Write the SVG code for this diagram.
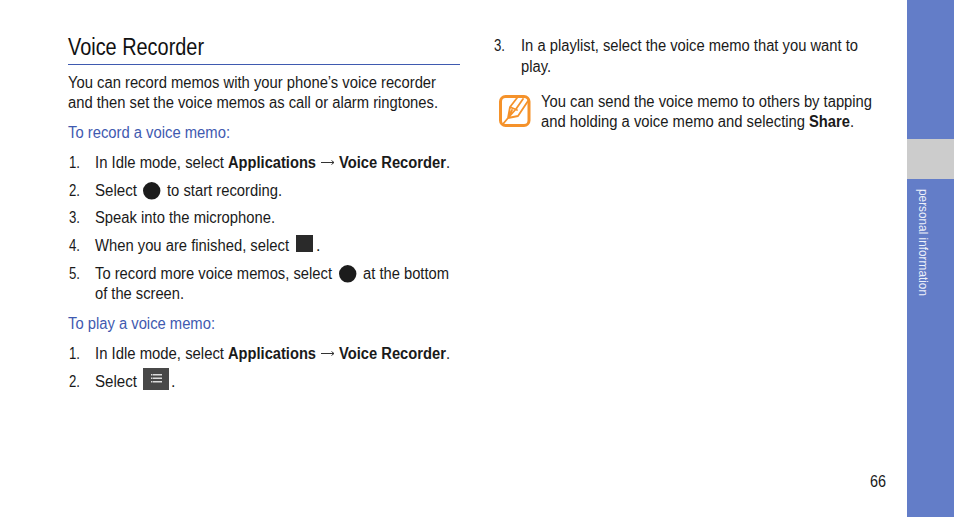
<svg xmlns="http://www.w3.org/2000/svg" width="954" height="517" viewBox="0 0 954 517">
<style>
text{font-family:"Liberation Sans",Arial,sans-serif;font-size:16px;fill:#1a1a1a}
.b{font-weight:700}
.n{font-weight:400}
.h{fill:#3f5ab0}
</style>
<defs>
<g id="rec"><circle r="8.700" fill="#1c1c1c"/></g>
</defs>
<rect width="954" height="517" fill="#fff"/>
<rect x="907" y="0" width="47" height="517" fill="#637dc8"/>
<rect x="907" y="139" width="47" height="40" fill="#cccccc"/>
<text transform="translate(918.500,189) rotate(90)" textLength="107" lengthAdjust="spacingAndGlyphs" style="font-size:12px;fill:#eef1fa">personal information</text>
<text x="68" y="55" textLength="136" lengthAdjust="spacingAndGlyphs" style="font-size:23px;fill:#111">Voice Recorder</text>
<rect x="68" y="64" width="392" height="1" fill="#3f5ab0"/>
<text x="68" y="88" textLength="368" lengthAdjust="spacingAndGlyphs">You can record memos with your phone’s voice recorder</text>
<text x="68" y="108" textLength="370" lengthAdjust="spacingAndGlyphs">and then set the voice memos as call or alarm ringtones.</text>
<text class="h" x="68" y="138" textLength="162" lengthAdjust="spacingAndGlyphs">To record a voice memo:</text>
<text x="69" y="168" textLength="11" lengthAdjust="spacingAndGlyphs">1.</text>
<text x="95" y="168" textLength="129" lengthAdjust="spacingAndGlyphs">In Idle mode, select</text>
<text class="b" x="228" y="168" textLength="88" lengthAdjust="spacingAndGlyphs">Applications</text>
<path d="M321 162.500H334M331.500 160.500l2.500 2-2.500 2" fill="none" stroke="#333"/>
<text class="b" x="339" y="168" textLength="111" lengthAdjust="spacingAndGlyphs">Voice Recorder<tspan class="n">.</tspan></text>
<text x="69" y="196" textLength="11" lengthAdjust="spacingAndGlyphs">2.</text>
<text x="95" y="196" textLength="42" lengthAdjust="spacingAndGlyphs">Select</text>
<use href="#rec" x="151.700" y="190.800"/>
<text x="167" y="196" textLength="115" lengthAdjust="spacingAndGlyphs">to start recording.</text>
<text x="69" y="223" textLength="11" lengthAdjust="spacingAndGlyphs">3.</text>
<text x="95" y="223" textLength="180" lengthAdjust="spacingAndGlyphs">Speak into the microphone.</text>
<text x="69" y="251" textLength="11" lengthAdjust="spacingAndGlyphs">4.</text>
<text x="95" y="251" textLength="194" lengthAdjust="spacingAndGlyphs">When you are finished, select</text>
<rect x="296" y="235" width="17" height="17" fill="#2a2a2a"/>
<text x="316" y="251">.</text>
<text x="69" y="279" textLength="11" lengthAdjust="spacingAndGlyphs">5.</text>
<text x="95" y="279" textLength="237" lengthAdjust="spacingAndGlyphs">To record more voice memos, select</text>
<use href="#rec" x="347.700" y="273.800"/>
<text x="363" y="279" textLength="86" lengthAdjust="spacingAndGlyphs">at the bottom</text>
<text x="95" y="299" textLength="89" lengthAdjust="spacingAndGlyphs">of the screen.</text>
<text class="h" x="68" y="329" textLength="147" lengthAdjust="spacingAndGlyphs">To play a voice memo:</text>
<text x="69" y="359" textLength="11" lengthAdjust="spacingAndGlyphs">1.</text>
<text x="95" y="359" textLength="129" lengthAdjust="spacingAndGlyphs">In Idle mode, select</text>
<text class="b" x="228" y="359" textLength="88" lengthAdjust="spacingAndGlyphs">Applications</text>
<path d="M321 353.500H334M331.500 351.500l2.500 2-2.500 2" fill="none" stroke="#333"/>
<text class="b" x="339" y="359" textLength="111" lengthAdjust="spacingAndGlyphs">Voice Recorder<tspan class="n">.</tspan></text>
<text x="69" y="387" textLength="11" lengthAdjust="spacingAndGlyphs">2.</text>
<text x="95" y="387" textLength="42" lengthAdjust="spacingAndGlyphs">Select</text>
<rect x="143" y="368" width="26" height="22" fill="#484848"/>
<g fill="#dcdcdc"><rect x="151" y="374" width="1.500" height="1.500"/><rect x="153" y="374" width="9" height="1.500"/><rect x="151" y="377.500" width="1.500" height="1.500"/><rect x="153" y="377.500" width="9" height="1.500"/><rect x="151" y="381" width="1.500" height="1.500"/><rect x="153" y="381" width="9" height="1.500"/></g>
<text x="171" y="387">.</text>
<text x="494" y="51" textLength="11" lengthAdjust="spacingAndGlyphs">3.</text>
<text x="521" y="51" textLength="337" lengthAdjust="spacingAndGlyphs">In a playlist, select the voice memo that you want to</text>
<text x="521" y="72" textLength="30" lengthAdjust="spacingAndGlyphs">play.</text>
<g fill="none" stroke="#f5922a" stroke-linejoin="round" stroke-linecap="round">
<rect x="500.500" y="96.500" width="28.500" height="29" rx="5" stroke-width="3"/>
<path d="M503 124l5-6 2-11 7-9M528 101l-10 15-10 2M510 107l7 3M512 110l-4 8 8-9 7-10" stroke-width="1.800"/>
</g>
<text x="541" y="107" textLength="331" lengthAdjust="spacingAndGlyphs">You can send the voice memo to others by tapping</text>
<text x="541" y="127" textLength="264" lengthAdjust="spacingAndGlyphs">and holding a voice memo and selecting</text>
<text class="b" x="809" y="127" textLength="45" lengthAdjust="spacingAndGlyphs">Share<tspan class="n">.</tspan></text>
<text x="870" y="487" textLength="16" lengthAdjust="spacingAndGlyphs">66</text>
</svg>
